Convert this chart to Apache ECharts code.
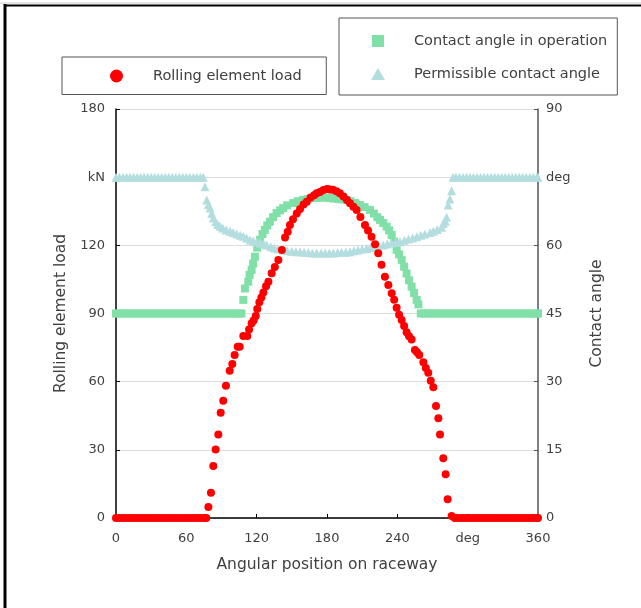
<!DOCTYPE html>
<html>
<head>
<meta charset="utf-8">
<script src="https://cdn.jsdelivr.net/npm/echarts@6/dist/echarts.min.js"></script>
<style>
html,body{margin:0;padding:0;background:#fff;}
#chart{width:641px;height:608px;}
</style>
</head>
<body>
<div id="chart"></div>
<script>
// ---- Data ----
// Rolling element load (kN) vs angular position (deg)
var loadAngle = [0,3,6,9,12,15,18,21,24,27,30,33,36,39,42,45,48,51,54,57,60,63,66,69,72,75,77,
  78.8,81,83,85,87.3,89.3,91.5,93.8,97,99.2,101.2,103.8,105.5,108.6,112,113.5,115.7,117.5,119.2,120.5,122.3,124,125.7,128,130,132.8,135.5,138.5,141.5,144.2,146.5,148.4,151,154.2,157,160,162.7,166,169,171.2,174,177,180,182.6,185,188,191,194,197,199.6,202.5,205.3,208.5,212.4,215,218,221,223.7,226.5,229.4,232.3,235.2,237.3,239.4,241.5,243.7,245.8,247.9,250,252.2,255,256.8,258.7,262.2,264.3,266.4,268.5,270.7,273,275,276.4,279.2,281.2,282.9,
  286.3,289,292,295,298,301,304,307,310,313,316,319,322,325,328,331,334,337,340,343,346,349,352,355,358,360];
var loadValue = [0,0,0,0,0,0,0,0,0,0,0,0,0,0,0,0,0,0,0,0,0,0,0,0,0,0,0,
  4.8,11.1,22.9,30.2,36.8,46.3,51.6,58.2,64.8,67.8,71.7,75.4,75.4,80.1,80.1,83,85.7,87,88.9,92,94.9,97,99.2,102,104,107.7,110.5,113.5,118,123.5,126,128.9,131.5,134,136,138,139.2,141,142,142.9,143.5,144.3,144.8,144.6,144.5,143.8,142.9,141.5,140,138.5,137,135.5,132.5,128.9,126.5,123.8,120.5,116.5,111.5,106.2,102.5,98.9,96,92.5,89.5,87.1,84.5,81.7,80,78.6,73.9,73,71.7,68.5,66,63.9,60.4,57.5,49.3,43.9,36.8,26.3,19.2,8.2,
  0.9,0,0,0,0,0,0,0,0,0,0,0,0,0,0,0,0,0,0,0,0,0,0,0,0,0];

// Contact angle in operation (deg)
var opAngle = [0,3,6,9,12,15,18,21,24,27,30,33,36,39,42,45,48,51,54,57,60,63,66,69,72,75,78,81,84,87,90,93,96,99,102,105,107,
  108.6,110,112.8,114,115.7,117,118.5,120.5,122.8,125,127,129,131.3,134,137,140,142.6,146,151.2,155,159.7,164,168,171.2,175,179,182.6,186,190,193,196.8,200,204,208.2,212,216.7,220,223,225.2,228,230.9,233,235.2,237.3,239.4,241.5,243.7,245.8,247.9,250,252.2,254.3,256.5,258,
  260,263,266,269,272,275,278,281,284,287,290,293,296,299,302,305,308,311,314,317,320,323,326,329,332,335,338,341,344,347,350,353,356,359,360];
var opValue = [45,45,45,45,45,45,45,45,45,45,45,45,45,45,45,45,45,45,45,45,45,45,45,45,45,45,45,45,45,45,45,45,45,45,45,45,45,
  48,50.5,52,53.5,54.6,56,57.5,59.5,61.2,62.5,63.4,64.4,65.2,66.2,67.1,67.7,68.2,68.8,69.3,69.7,70,70.2,70.4,70.4,70.5,70.5,70.4,70.3,70.2,70.1,70,69.7,69.3,68.9,68.4,67.8,67,66.2,65.6,64.9,64.1,63.3,62.3,60.8,59,58,56.8,55.3,53.8,52.3,50.9,49.5,48,47,
  45,45,45,45,45,45,45,45,45,45,45,45,45,45,45,45,45,45,45,45,45,45,45,45,45,45,45,45,45,45,45,45,45,45,45];

// Permissible contact angle (deg)
var permAngle = [0,3,6,9,12,15,18,21,24,27,30,33,36,39,42,45,48,51,54,57,60,63,66,69,72,74.5,
  75.9,77.4,78.8,80.2,81.6,83,85,86.8,88.7,91,94,97.3,100,103,106,108.6,111.4,114.3,117,120,123,126,128.5,132,135,138,142.7,146,150,153.5,157,160.5,164,167.5,171.2,175,178.5,182,185.4,189,192.5,196,199.6,203,206.5,210,213.8,217,220.5,224,228,231.5,235,238.5,242.3,246,249.5,253,256.5,260,263.5,267.9,270.7,274,277.8,279.2,281,282,283.4,284.8,286.3,
  287.5,290,293,296,299,302,305,308,311,314,317,320,323,326,329,332,335,338,341,344,347,350,353,356,359,360];
var permValue = [75,75,75,75,75,75,75,75,75,75,75,75,75,75,75,75,75,75,75,75,75,75,75,75,75,75,
  72.9,70,69,68.2,67,66,65.2,64.6,64.2,63.8,63.4,63.1,62.8,62.5,62.2,62,61.6,61.2,61,60.8,60.5,60.3,60.1,59.7,59.4,59.2,59,58.8,58.7,58.6,58.6,58.5,58.4,58.3,58.3,58.3,58.3,58.3,58.3,58.4,58.5,58.5,58.6,58.8,59,59.2,59.3,59.5,59.7,59.9,60.1,60.3,60.5,60.6,60.8,61.1,61.4,61.6,61.9,62.2,62.5,62.8,63.1,63.5,64,64.8,65.3,66.2,68.9,70.2,72,
  75,75,75,75,75,75,75,75,75,75,75,75,75,75,75,75,75,75,75,75,75,75,75,75,75,75,75];

// Tick labels
var xTickLabels = ['0','60','120','180','240','deg','360'];
var yLeftTickLabels = ['0','30','60','90','120','kN','180'];
var yRightTickLabels = ['0','15','30','45','60','deg','90'];

var seriesNames = ['Rolling element load','Contact angle in operation','Permissible contact angle'];

function pairs(a, b){ var out=[]; for (var i=0;i<a.length;i++) out.push([a[i], b[i]]); return out; }

var FONT = 'DejaVu Sans';
var TXT = '#404040';
var ICON_CIRCLE = 'path://M6.5,0A6.5,6.5,0,1,1,6.5,13A6.5,6.5,0,1,1,6.5,0Z';
var ICON_SQUARE = 'path://M0,0L12,0L12,12L0,12Z';
var ICON_TRI = 'path://M7,0L14,12L0,12Z';

var chart = echarts.init(document.getElementById('chart'), null, {renderer:'canvas'});
chart.setOption({
  animation: false,
  backgroundColor: '#ffffff',
  textStyle: {fontFamily: FONT, color: TXT},
  grid: {left: 116, right: 103, top: 109, bottom: 90, containLabel: false},
  graphic: [
    {type:'line', shape:{x1:0, y1:3, x2:641, y2:3}, style:{stroke:'#cccccc', lineWidth:1}},
    {type:'line', shape:{x1:4, y1:5.5, x2:641, y2:5.5}, style:{stroke:'#000', lineWidth:2}},
    {type:'line', shape:{x1:5, y1:4, x2:5, y2:608}, style:{stroke:'#000', lineWidth:3}}
  ],
  legend: [
    {
      data: [{name: seriesNames[0], icon: ICON_CIRCLE}],
      left: 62, top: 57, orient: 'horizontal',
      itemWidth: 63, itemHeight: 13, symbolKeepAspect: true,
      padding: [11.5, 24.5, 11, 48],
      borderColor: '#555', borderWidth: 1,
      textStyle: {fontFamily: FONT, fontSize: 14.5, color: TXT},
      selectedMode: false
    },
    {
      data: [{name: seriesNames[1], icon: ICON_SQUARE}, {name: seriesNames[2], icon: ICON_TRI}],
      left: 339, top: 18, orient: 'vertical',
      itemWidth: 62, itemHeight: 12, itemGap: 18, symbolKeepAspect: true,
      padding: [15.5, 10, 13.5, 32],
      borderColor: '#555', borderWidth: 1,
      textStyle: {fontFamily: FONT, fontSize: 14.5, color: TXT},
      selectedMode: false
    }
  ],
  xAxis: {
    type: 'value', min: 0, max: 360, interval: 60,
    name: 'Angular position on raceway', nameLocation: 'middle', nameGap: 39,
    nameTextStyle: {fontFamily: FONT, fontSize: 15.5, color: TXT},
    axisLine: {show: true, onZero: false, lineStyle: {color: '#000', width: 1.5}},
    axisTick: {show: true, inside: true, length: 4, lineStyle: {color: '#000'}},
    axisLabel: {margin: 14, fontFamily: FONT, fontSize: 13, color: TXT,
      formatter: function(v){ return xTickLabels[Math.round(v/60)]; }},
    splitLine: {show: false}
  },
  yAxis: [
    {
      type: 'value', min: 0, max: 180, interval: 30, position: 'left',
      name: 'Rolling element load', nameLocation: 'middle', nameGap: 46,
      nameTextStyle: {fontFamily: FONT, fontSize: 15.5, color: TXT},
      axisLine: {show: true, onZero: false, lineStyle: {color: '#000', width: 1.5}},
      axisTick: {show: true, inside: true, length: 4, lineStyle: {color: '#000'}},
      axisLabel: {margin: 11, fontFamily: FONT, fontSize: 13, color: TXT,
        formatter: function(v){ return yLeftTickLabels[Math.round(v/30)]; }},
      splitLine: {show: true, lineStyle: {color: '#dddddd', width: 1}}
    },
    {
      type: 'value', min: 0, max: 90, interval: 15, position: 'right',
      name: 'Contact angle', nameLocation: 'middle', nameGap: 51,
      nameTextStyle: {fontFamily: FONT, fontSize: 15.5, color: TXT},
      axisLine: {show: true, onZero: false, lineStyle: {color: '#555', width: 1.5}},
      axisTick: {show: true, inside: true, length: 4, lineStyle: {color: '#555'}},
      axisLabel: {margin: 8, fontFamily: FONT, fontSize: 13, color: TXT,
        formatter: function(v){ return yRightTickLabels[Math.round(v/15)]; }},
      splitLine: {show: false}
    }
  ],
  series: [
    {
      name: seriesNames[1], type: 'scatter', yAxisIndex: 1,
      symbol: 'rect', symbolSize: 8,
      itemStyle: {color: '#80e0a8', opacity: 1},
      data: pairs(opAngle, opValue), z: 2
    },
    {
      name: seriesNames[2], type: 'scatter', yAxisIndex: 1,
      symbol: 'triangle', symbolSize: 9,
      itemStyle: {color: '#b4dde0', opacity: 1},
      data: pairs(permAngle, permValue), z: 3
    },
    {
      name: seriesNames[0], type: 'scatter', yAxisIndex: 0,
      symbol: 'circle', symbolSize: 8,
      itemStyle: {color: '#ff0000', opacity: 1},
      data: pairs(loadAngle, loadValue), z: 4
    }
  ]
});
</script>
</body>
</html>
